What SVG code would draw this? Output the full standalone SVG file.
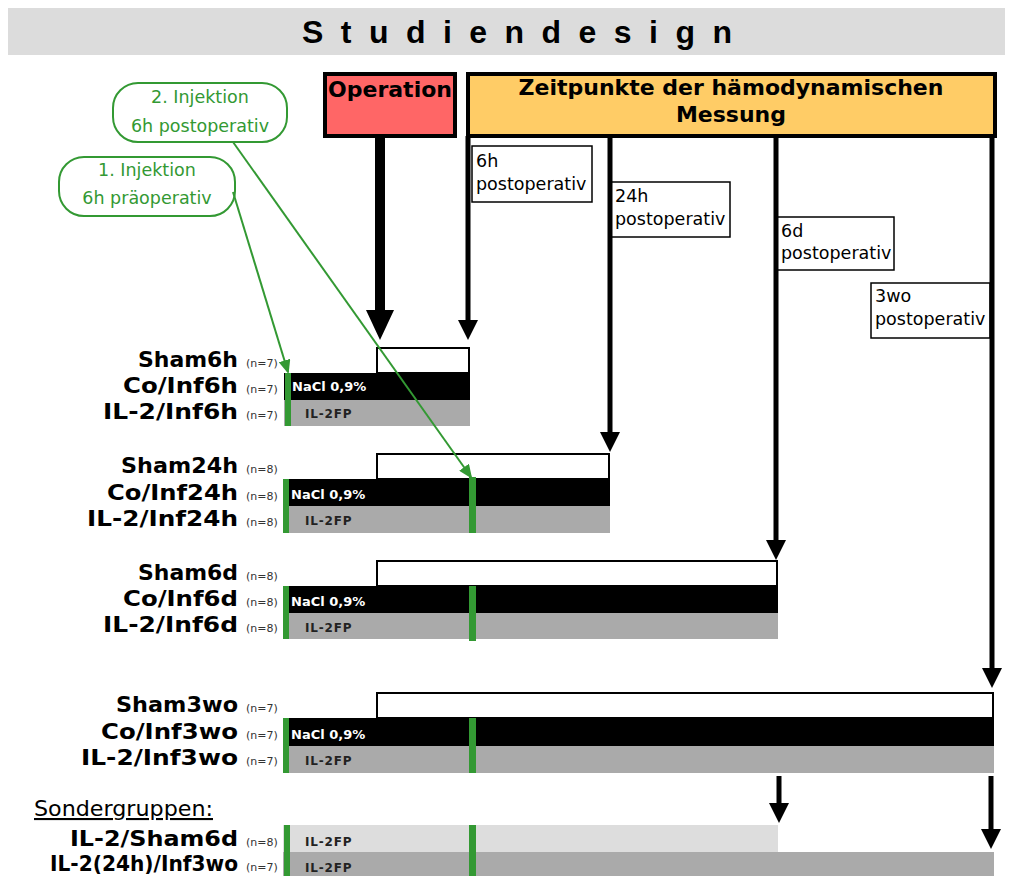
<svg xmlns="http://www.w3.org/2000/svg" width="1009" height="876" viewBox="0 0 1009 876">
<style>
.lbl{font-family:"DejaVu Sans",Verdana,sans-serif;font-weight:bold;font-size:21px;fill:#000}
.n{font-family:"DejaVu Sans",Verdana,sans-serif;font-size:11px;fill:#333}
.nacl{font-family:"DejaVu Sans",Verdana,sans-serif;font-weight:bold;font-size:13px;fill:#fff}
.il{font-family:"DejaVu Sans",Verdana,sans-serif;font-weight:bold;font-size:12px;fill:#222;letter-spacing:0.8px}
.sham{fill:#fff;stroke:#000;stroke-width:2}
.blk{fill:#000}
.gry{fill:#aaaaaa}
.lgry{fill:#dddddd}
.grn{fill:#339933}
.tbox{fill:#fff;stroke:#000;stroke-width:1.5}
.ttxt{font-family:"DejaVu Sans",Verdana,sans-serif;font-size:17.5px;fill:#000}
.gbox{fill:#fff;stroke:#339933;stroke-width:2}
.gtxt{font-family:"DejaVu Sans",Verdana,sans-serif;font-size:17.5px;fill:#339933;text-anchor:middle}
.hdr{font-family:"DejaVu Sans",Verdana,sans-serif;font-weight:bold;font-size:22px;fill:#000;text-anchor:middle}
.tl{stroke:#000;stroke-width:5;fill:none}
.gl{stroke:#339933;stroke-width:2;fill:none}
</style>
<defs>
<marker id="ah" markerUnits="userSpaceOnUse" markerWidth="20" markerHeight="20" refX="0" refY="10" orient="auto" viewBox="0 0 20 20">
<path d="M0,0 L20,10 L0,20 z" fill="#000"/>
</marker>
<marker id="ahBig" markerUnits="userSpaceOnUse" markerWidth="30" markerHeight="28" refX="0" refY="14" orient="auto" viewBox="0 0 30 28">
<path d="M0,0 L30,14 L0,28 z" fill="#000"/>
</marker>
<marker id="ahG" markerUnits="userSpaceOnUse" markerWidth="14" markerHeight="12" refX="12" refY="6" orient="auto" viewBox="0 0 14 12">
<path d="M0,0 L14,6 L0,12 z" fill="#339933"/>
</marker>
</defs>
<rect width="1009" height="876" fill="#fff"/>

<g id="title">
<rect x="8" y="8" width="997" height="47" fill="#dcdcdc"/>
<text x="302" y="43" textLength="430" lengthAdjust="spacing" style="font-family:'Liberation Sans',Arial,sans-serif;font-weight:bold;font-size:32px">Studiendesign</text>
</g>

<g id="operation">
<rect x="325" y="74" width="130" height="62" fill="#ff6666" stroke="#000" stroke-width="4"/>
<text class="hdr" x="390" y="97">Operation</text>
</g>

<g id="zeitpunkte">
<rect x="468" y="74" width="527" height="62" fill="#ffcc66" stroke="#000" stroke-width="4"/>
<text class="hdr" x="731" y="95">Zeitpunkte der hämodynamischen</text>
<text class="hdr" x="731" y="122">Messung</text>
</g>

<g id="inj2">
<rect class="gbox" x="113" y="83" width="174" height="59" rx="25"/>
<text class="gtxt" x="200" y="103">2. Injektion</text>
<text class="gtxt" x="200" y="132">6h postoperativ</text>
</g>
<g id="inj1">
<rect class="gbox" x="59" y="157" width="176" height="59" rx="25"/>
<text class="gtxt" x="147" y="176">1. Injektion</text>
<text class="gtxt" x="147" y="204">6h präoperativ</text>
</g>

<g id="t6h"><rect class="tbox" x="472" y="146" width="120" height="56"/><text class="ttxt" x="476" y="167">6h</text><text class="ttxt" x="476" y="190">postoperativ</text></g>
<g id="t24h"><rect class="tbox" x="611" y="182" width="119" height="55"/><text class="ttxt" x="615" y="202">24h</text><text class="ttxt" x="615" y="225">postoperativ</text></g>
<g id="t6d"><rect class="tbox" x="777" y="217" width="117" height="53"/><text class="ttxt" x="781" y="237">6d</text><text class="ttxt" x="781" y="259">postoperativ</text></g>
<g id="t3wo"><rect class="tbox" x="871" y="283" width="119" height="55"/><text class="ttxt" x="875" y="302">3wo</text><text class="ttxt" x="875" y="325">postoperativ</text></g>

<g id="g6h">
<rect class="sham" x="377" y="348" width="92" height="25"/>
<rect class="blk" x="284" y="373" width="186" height="27"/>
<rect class="gry" x="284" y="400" width="186" height="26"/>
<rect class="grn" x="285" y="373" width="6" height="53"/>
<text class="nacl" x="292" y="391">NaCl 0,9%</text>
<text class="il" x="305" y="418">IL-2FP</text>
<text class="lbl" x="138" y="367" textLength="100" lengthAdjust="spacingAndGlyphs">Sham6h</text>
<text class="lbl" x="123" y="393" textLength="115" lengthAdjust="spacingAndGlyphs">Co/Inf6h</text>
<text class="lbl" x="103" y="419" textLength="135" lengthAdjust="spacingAndGlyphs">IL-2/Inf6h</text>
<text class="n" x="246" y="367">(n=7)</text>
<text class="n" x="246" y="393">(n=7)</text>
<text class="n" x="246" y="419">(n=7)</text>
</g>

<g id="g24h">
<rect class="sham" x="377" y="454" width="232" height="25"/>
<rect class="blk" x="283" y="479" width="327" height="27"/>
<rect class="gry" x="283" y="506" width="327" height="27"/>
<rect class="grn" x="283" y="479" width="6" height="54"/>
<rect class="grn" x="469" y="477" width="7" height="56"/>
<text class="nacl" x="291" y="499">NaCl 0,9%</text>
<text class="il" x="305" y="525">IL-2FP</text>
<text class="lbl" x="121" y="473" textLength="117" lengthAdjust="spacingAndGlyphs">Sham24h</text>
<text class="lbl" x="107" y="500" textLength="131" lengthAdjust="spacingAndGlyphs">Co/Inf24h</text>
<text class="lbl" x="87" y="526" textLength="151" lengthAdjust="spacingAndGlyphs">IL-2/Inf24h</text>
<text class="n" x="246" y="473">(n=8)</text>
<text class="n" x="246" y="500">(n=8)</text>
<text class="n" x="246" y="526">(n=8)</text>
</g>

<g id="g6d">
<rect class="sham" x="377" y="561" width="400" height="25"/>
<rect class="blk" x="283" y="586" width="495" height="27"/>
<rect class="gry" x="283" y="613" width="495" height="26"/>
<rect class="grn" x="283" y="586" width="6" height="53"/>
<rect class="grn" x="469" y="586" width="7" height="55"/>
<text class="nacl" x="291" y="606">NaCl 0,9%</text>
<text class="il" x="305" y="632">IL-2FP</text>
<text class="lbl" x="138" y="580" textLength="100" lengthAdjust="spacingAndGlyphs">Sham6d</text>
<text class="lbl" x="123" y="606" textLength="115" lengthAdjust="spacingAndGlyphs">Co/Inf6d</text>
<text class="lbl" x="103" y="632" textLength="135" lengthAdjust="spacingAndGlyphs">IL-2/Inf6d</text>
<text class="n" x="246" y="580">(n=8)</text>
<text class="n" x="246" y="606">(n=8)</text>
<text class="n" x="246" y="632">(n=8)</text>
</g>

<g id="g3wo">
<rect class="sham" x="377" y="693" width="616" height="25"/>
<rect class="blk" x="283" y="718" width="711" height="28"/>
<rect class="gry" x="283" y="746" width="711" height="27"/>
<rect class="grn" x="283" y="718" width="6" height="55"/>
<rect class="grn" x="469" y="718" width="7" height="55"/>
<text class="nacl" x="291" y="739">NaCl 0,9%</text>
<text class="il" x="305" y="765">IL-2FP</text>
<text class="lbl" x="116" y="712" textLength="122" lengthAdjust="spacingAndGlyphs">Sham3wo</text>
<text class="lbl" x="101" y="739" textLength="137" lengthAdjust="spacingAndGlyphs">Co/Inf3wo</text>
<text class="lbl" x="81" y="765" textLength="157" lengthAdjust="spacingAndGlyphs">IL-2/Inf3wo</text>
<text class="n" x="246" y="712">(n=7)</text>
<text class="n" x="246" y="739">(n=7)</text>
<text class="n" x="246" y="765">(n=7)</text>
</g>

<g id="sonder">
<text x="34" y="816" style="font-family:'DejaVu Sans',Verdana,sans-serif;font-size:21px;text-decoration:underline" textLength="179" lengthAdjust="spacingAndGlyphs">Sondergruppen:</text>
<rect class="lgry" x="283" y="825" width="495" height="27"/>
<rect class="gry" x="283" y="852" width="711" height="24"/>
<rect class="grn" x="284" y="825" width="6" height="51"/>
<rect class="grn" x="469" y="825" width="7" height="51"/>
<text class="il" x="305" y="846">IL-2FP</text>
<text class="il" x="305" y="872">IL-2FP</text>
<text class="lbl" x="70" y="846" textLength="168" lengthAdjust="spacingAndGlyphs">IL-2/Sham6d</text>
<text class="lbl" x="50" y="871" textLength="188" lengthAdjust="spacingAndGlyphs">IL-2(24h)/Inf3wo</text>
<text class="n" x="246" y="846">(n=8)</text>
<text class="n" x="246" y="871">(n=7)</text>
</g>

<g id="connectors">
<line x1="380" y1="136" x2="380" y2="310" stroke="#000" stroke-width="10" marker-end="url(#ahBig)"/>
<line class="tl" x1="468" y1="136" x2="468" y2="320" marker-end="url(#ah)"/>
<line class="tl" x1="610" y1="136" x2="610" y2="432" marker-end="url(#ah)"/>
<line class="tl" x1="776" y1="136" x2="776" y2="540" marker-end="url(#ah)"/>
<line class="tl" x1="992" y1="136" x2="992" y2="668" marker-end="url(#ah)"/>
<line class="tl" x1="779" y1="776" x2="779" y2="803" marker-end="url(#ah)"/>
<line class="tl" x1="991" y1="776" x2="991" y2="829" marker-end="url(#ah)"/>
<line class="gl" x1="233" y1="192" x2="288" y2="372" marker-end="url(#ahG)"/>
<line class="gl" x1="233" y1="142" x2="471" y2="477" marker-end="url(#ahG)"/>
</g>
</svg>
